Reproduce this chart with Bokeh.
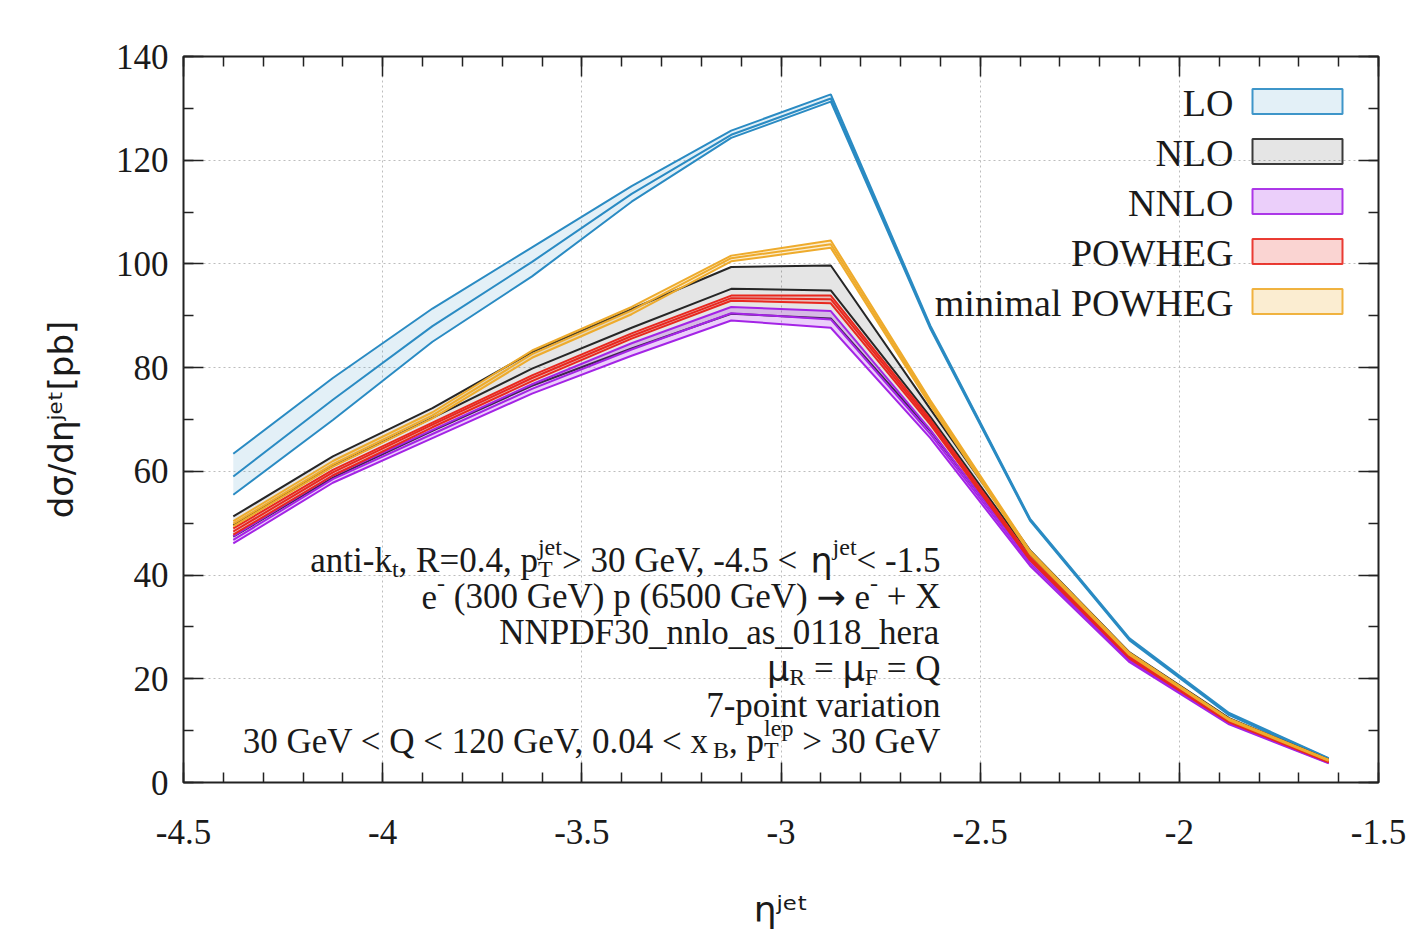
import numpy as np
from bokeh.plotting import figure
from bokeh.models import Range1d, FixedTicker, LinearAxis, Label, BoxAnnotation, CustomJSTickFormatter
from bokeh.embed import file_html
from bokeh.resources import INLINE

# ---------------- data ----------------
eta = [-4.375, -4.125, -3.875, -3.625, -3.375, -3.125, -2.875, -2.625, -2.375, -2.125, -1.875, -1.625]

lo_central = [59.0, 73.8, 88.0, 100.4, 113.5, 124.9, 131.9, 87.8, 50.7, 27.6, 13.2, 4.6]
lo_upper   = [63.4, 78.0, 91.4, 103.2, 115.0, 125.7, 132.7, 88.1, 50.9, 27.8, 13.4, 4.7]
lo_lower   = [55.5, 69.9, 85.0, 97.6, 112.0, 124.3, 131.3, 87.5, 50.5, 27.4, 13.0, 4.5]

nlo_central = [49.6, 61.0, 70.3, 79.8, 87.7, 95.2, 94.9, 70.5, 44.0, 24.6, 12.0, 4.1]
nlo_upper   = [51.3, 62.9, 72.2, 83.0, 91.3, 99.4, 99.7, 72.0, 44.8, 25.1, 12.4, 4.4]
nlo_lower   = [47.4, 58.8, 67.8, 76.5, 83.7, 90.4, 89.5, 67.8, 43.0, 23.9, 11.6, 3.9]

nnlo_central = [46.8, 58.5, 67.2, 75.9, 83.5, 90.5, 89.3, 67.2, 42.3, 23.5, 11.4, 3.8]
nnlo_upper   = [47.5, 59.2, 68.0, 76.8, 84.7, 91.7, 90.9, 68.0, 42.8, 23.8, 11.6, 3.9]
nnlo_lower   = [46.1, 57.8, 66.4, 75.0, 82.3, 89.1, 87.7, 66.4, 41.8, 23.2, 11.2, 3.7]

powheg_central = [48.4, 59.8, 69.0, 78.0, 86.1, 93.4, 93.2, 69.5, 43.2, 24.1, 11.8, 4.0]
powheg_upper   = [49.0, 60.3, 69.4, 78.5, 86.6, 93.9, 93.9, 70.0, 43.5, 24.3, 11.9, 4.1]
powheg_lower   = [47.8, 59.2, 68.5, 77.4, 85.6, 92.9, 92.4, 69.0, 42.9, 23.9, 11.6, 3.9]

minpow_central = [49.9, 61.4, 70.8, 82.6, 91.0, 101.1, 103.8, 73.2, 44.4, 24.8, 12.2, 4.3]
minpow_upper   = [50.4, 62.0, 71.4, 83.3, 91.7, 101.6, 104.5, 73.7, 44.7, 25.0, 12.3, 4.4]
minpow_lower   = [49.4, 60.9, 70.2, 81.9, 90.3, 100.5, 103.1, 72.7, 44.1, 24.6, 12.0, 4.2]

series_names = ["LO", "NLO", "NNLO", "POWHEG", "minimal POWHEG"]

x_ticks = [-4.5, -4.0, -3.5, -3.0, -2.5, -2.0, -1.5]
x_tick_labels = ["-4.5", "-4", "-3.5", "-3", "-2.5", "-2", "-1.5"]
y_ticks = [0, 20, 40, 60, 80, 100, 120, 140]
y_tick_labels = ["0", "20", "40", "60", "80", "100", "120", "140"]
x_title = "ηʲᵉᵗ"
y_title = "dσ/dηʲᵉᵗ[pb]"

# ---------------- styles ----------------
line_colors = ["#2a8bc3", "#262626", "#a424e6", "#e8281f", "#eeab2c"]
fill_alphas = [0.13, 0.12, 0.22, 0.2, 0.22]
SERIF = "Liberation Serif"
SANS = "DejaVu Sans"
TXT = "#1a1a1a"
BASE_FIX = 12  # rendered alphabetic baseline sits this many px lower than requested

# screenshot-pixel -> data helpers (frame: x 183..1378, y 56..782)
XL, XR, YT, YB = 183.0, 1378.0, 56.0, 782.0
def X(px):
    return -4.5 + (px - XL) / (XR - XL) * 3.0
def Y(py):
    return 140.0 * (YB - py) / (YB - YT)

W, H = 1420, 935
p = figure(width=W, height=H, x_range=Range1d(-4.5, -1.5), y_range=Range1d(0, 140),
           output_backend="svg", toolbar_location=None,
           min_border_left=int(XL), min_border_right=int(W - XR),
           min_border_top=int(YT), min_border_bottom=int(H - YB))
p.background_fill_color = "white"
p.border_fill_color = "white"
p.outline_line_color = "#222222"
p.outline_line_width = 2

x_minor = [round(v, 2) for v in np.arange(-4.5, -1.45, 0.1)]
y_minor = list(range(0, 141, 10))
xt = FixedTicker(ticks=x_ticks, minor_ticks=x_minor)
yt = FixedTicker(ticks=y_ticks, minor_ticks=y_minor)

def style_axis(ax, ticker, labels=None):
    ax.ticker = ticker
    ax.axis_line_color = None
    ax.major_tick_in = 20
    ax.major_tick_out = 0
    ax.minor_tick_in = 10
    ax.minor_tick_out = 0
    ax.major_tick_line_color = "#222222"
    ax.minor_tick_line_color = "#222222"
    ax.major_tick_line_width = 1.5
    ax.minor_tick_line_width = 1.5
    if labels is None:
        ax.formatter = CustomJSTickFormatter(code="return ''")
        ax.major_label_text_font_size = "1px"
        ax.major_label_standoff = 0
    else:
        ax.major_label_overrides = {float(t): l for t, l in zip(ticker.ticks, labels)}
        ax.major_label_text_font = SERIF
        ax.major_label_text_font_size = "35px"
        ax.major_label_text_color = TXT

style_axis(p.xaxis[0], xt, x_tick_labels)
p.xaxis[0].major_label_standoff = 37
p.xaxis[0].axis_label = x_title
p.xaxis[0].axis_label_text_font = SANS
p.xaxis[0].axis_label_text_font_size = "36px"
p.xaxis[0].axis_label_text_font_style = "normal"
p.xaxis[0].axis_label_text_color = TXT
p.xaxis[0].axis_label_standoff = 42

style_axis(p.yaxis[0], yt, y_tick_labels)
p.yaxis[0].major_label_standoff = 15
p.yaxis[0].axis_label = y_title
p.yaxis[0].axis_label_text_font = SANS
p.yaxis[0].axis_label_text_font_size = "34px"
p.yaxis[0].axis_label_text_font_style = "normal"
p.yaxis[0].axis_label_text_color = TXT
p.yaxis[0].axis_label_standoff = 32

top_ax = LinearAxis()
style_axis(top_ax, xt)
p.add_layout(top_ax, "above")
right_ax = LinearAxis()
style_axis(right_ax, yt)
p.add_layout(right_ax, "right")

for g, t in ((p.xgrid[0], xt), (p.ygrid[0], yt)):
    g.ticker = t
    g.grid_line_color = "#bdbdbd"
    g.grid_line_dash = "2 3"
    g.grid_line_width = 1

bands = [
    (lo_lower, lo_central, lo_upper),
    (nlo_lower, nlo_central, nlo_upper),
    (nnlo_lower, nnlo_central, nnlo_upper),
    (powheg_lower, powheg_central, powheg_upper),
    (minpow_lower, minpow_central, minpow_upper),
]
for (lo, c, up), col, fa in zip(bands, line_colors, fill_alphas):
    p.varea(x=eta, y1=lo, y2=up, fill_color=col, fill_alpha=fa)
    for ys in (lo, c, up):
        p.line(eta, ys, line_color=col, line_width=2)

# ---------------- legend (text left of swatch) ----------------
leg_centers = [101, 151, 201, 251, 301]
for name, col, fa, cy in zip(series_names, line_colors, fill_alphas, leg_centers):
    p.add_layout(Label(x=X(1233), y=Y(cy + 13 - BASE_FIX), text=name, text_font=SERIF,
                       text_font_size="38px", text_align="right", text_baseline="alphabetic",
                       text_color=TXT))
    p.add_layout(BoxAnnotation(left=X(1252), right=X(1342), top=Y(cy - 12.5), bottom=Y(cy + 12.5),
                               fill_color=col, fill_alpha=fa, line_color=col,
                               line_width=2, line_alpha=0.9))

# ---------------- rich text helper ----------------
TW = {' ': .25, '!': .333, '(': .333, ')': .333, ',': .25, '-': .333, '.': .25, '_': .5,
      '<': .564, '=': .564, '>': .564, '+': .564, '[': .333, ']': .333, '/': .278}
for ch in "0123456789":
    TW[ch] = .5
TW.update(dict(zip("ABCDEFGHIJKLMNOPQRSTUVWXYZ",
                   [.722, .667, .667, .722, .611, .556, .722, .722, .333, .389, .722, .611, .889,
                    .722, .722, .556, .722, .667, .556, .611, .722, .722, .944, .722, .722, .611])))
TW.update(dict(zip("abcdefghijklmnopqrstuvwxyz",
                   [.444, .5, .444, .5, .444, .333, .5, .5, .278, .278, .5, .278, .778, .5, .5, .5,
                    .5, .333, .389, .278, .5, .5, .722, .5, .5, .444])))
GW = {'η': .634, 'μ': .636, 'σ': .602, '→': .838, ' ': .318}

def text_w(s, size, font):
    if font == SANS:
        return sum(GW.get(ch, .6) for ch in s) * size
    return sum(TW.get(ch, .5) for ch in s) * size

def add_chain(segs, anchor, base, size, small=0.7):
    ss = round(size * small)
    pieces = []
    for seg in segs:
        kind = seg[1]
        font = seg[2] if len(seg) > 2 else SERIF
        if kind == "n":
            pieces.append(([(seg[0], size, 0.0, font)], text_w(seg[0], size, font)))
        elif kind == "sub":
            pieces.append(([(seg[0], ss, 0.24 * size, font)], text_w(seg[0], ss, font)))
        elif kind == "sup":
            pieces.append(([(seg[0], ss, -0.38 * size, font)], text_w(seg[0], ss, font)))
        elif kind == "stack":
            sb, sp = seg[0]
            w = max(text_w(sb, ss, font), text_w(sp, ss, font))
            pieces.append(([(sb, ss, 0.24 * size, font), (sp, ss, -0.38 * size, font)], w))
    total = sum(w for _, w in pieces)
    pos = anchor - total
    for parts, w in pieces:
        for txt, sz, off, font in parts:
            stripped = txt.lstrip(" ")
            lead = text_w(txt[:len(txt) - len(stripped)], sz, font)
            lab = Label(x=X(pos + lead), y=Y(base + off - BASE_FIX), text=stripped.rstrip(" "))
            lab.text_font = font
            lab.text_font_size = f"{sz}px"
            lab.text_align = "left"
            lab.text_baseline = "alphabetic"
            lab.text_color = TXT
            p.add_layout(lab)
        pos = pos + w

# annotation block (right aligned at the same edge)
info_lines = [
    ([("anti-k", "n"), ("t", "sub"), (", R=0.4, p", "n"), (("T", "jet"), "stack"),
      ("> 30 GeV, -4.5 < ", "n"), ("η", "n", SANS), ("jet", "sup"), ("< -1.5", "n")], 572),
    ([("e", "n"), ("-", "sup"), (" (300 GeV) p (6500 GeV) ", "n"), ("→", "n", SANS),
      (" e", "n"), ("-", "sup"), (" + X", "n")], 608),
    ([("NNPDF30_nnlo_as_0118_hera", "n")], 644),
    ([("μ", "n", SANS), ("R", "sub"), (" = ", "n"), ("μ", "n", SANS), ("F", "sub"), (" = Q", "n")], 680),
    ([("7-point variation", "n")], 717),
    ([("30 GeV < Q < 120 GeV, 0.04 < x", "n"), ("B", "sub"), (", p", "n"), (("T", "lep"), "stack"),
      (" > 30 GeV", "n")], 753),
]
for segs, base in info_lines:
    add_chain(segs, 940, base, 35)

open("out.html", "w").write(file_html(p, INLINE))
